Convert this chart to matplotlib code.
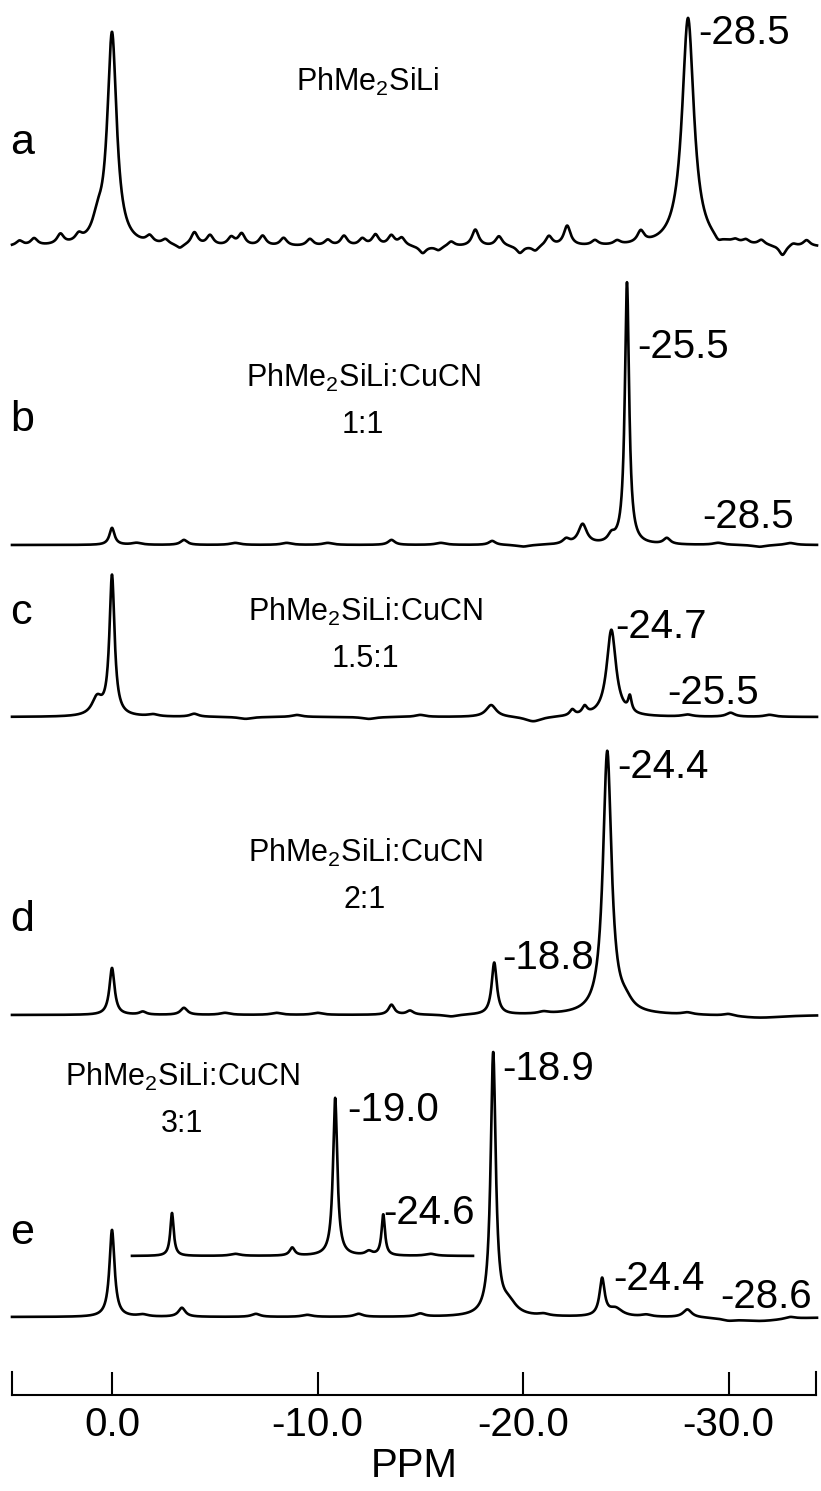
import numpy as np
import matplotlib.pyplot as plt

plt.rcParams['font.family'] = ['Liberation Sans', 'DejaVu Sans']
plt.rcParams['mathtext.fontset'] = 'custom'
plt.rcParams['mathtext.rm'] = 'Liberation Sans'
plt.rcParams['mathtext.default'] = 'regular'

# peak tables: position (ppm), height, width (ppm, FWHM)
a_pos = [0.0, 0.7, -28.03, 3.79, 2.51, 1.62, 4.5, -1.83, -2.6, -3.3, -4.01, -4.77, -5.80, -6.31,
         -7.33, -8.35, -9.63, -10.5, -11.29, -12.18, -12.82, -13.59, -14.10, -15.12, -15.89,
         -16.5, -17.68, -18.83, -19.85, -20.6, -21.26, -22.15, -23.5, -24.58, -25.73, -29.5,
         -30.33, -30.84, -31.6, -32.63, -33.14, -33.8]
a_hgt = [212, 18, 229, 7, 10, 7, 5, 7, 5, -4, 13, 10, 8, 11.7,
         10, 8, 7, 6, 10, 7, 11, 10, 8, -7, -4,
         5, 16.7, 10, -7, -5, 10, 20, 5, 4, 11.7, -5,
         3, 4, 5, -10, 3, 6]
a_wid = [0.55, 0.6, 0.7] + [0.4] * 39

b_pos = [0.0, -1.2, -3.5, -6.0, -8.5, -10.5, -13.6, -16.0, -18.5, -20.0, -22.1, -22.9, -24.3,
         -25.06, -27.0, -29.5, -31.5, -33.0]
b_hgt = [17, 2, 5, 2, 2, 2, 5, 2, 4, -2, 5, 20, 7, 262, 6, 2, -2, 2]
b_wid = [0.3, 0.6, 0.4, 0.6, 0.6, 0.6, 0.4, 0.6, 0.4, 0.8, 0.4, 0.5, 0.4, 0.25, 0.4, 0.6, 0.8, 0.6]

c_pos = [0.73, 0.0, -2.0, -4.0, -6.5, -9.0, -12.5, -15.0, -18.45, -20.5, -22.4, -23.0, -24.3,
         -25.2, -28.0, -30.1, -32.0]
c_hgt = [17, 140, 2, 3, -2, 2, -2, 2, 12, -5, 6, 8, 87, 15, 2, 4, 2]
c_wid = [0.6, 0.3, 0.6, 0.5, 0.8, 0.6, 0.8, 0.6, 0.6, 1.0, 0.3, 0.3, 0.55, 0.2, 0.6, 0.5, 0.6]

d_pos = [0.0, -1.5, -3.5, -5.5, -8.0, -10.0, -13.6, -14.5, -16.5, -18.6, -21.0, -24.1, -25.0,
         -28.0, -30.0, -31.5]
d_hgt = [47, 3, 7, 2, 2, 2, 10, 4, -2, 52, 2, 263, 8, 2, 2, -3]
d_wid = [0.3, 0.4, 0.4, 0.6, 0.6, 0.6, 0.35, 0.4, 0.8, 0.3, 0.6, 0.5, 0.8, 0.6, 0.6, 3.0]

e_pos = [0.0, -1.5, -3.4, -7.0, -9.5, -12.0, -15.0, -18.55, -19.3, -21.0, -23.85, -24.5,
         -26.0, -28.0, -30.0, -31.5, -33.0]
e_hgt = [87, 2, 9, 3, 2, 3, 3, 262, 12, 2, 37, 8, 2, 8, -2, -4, 2]
e_wid = [0.3, 0.6, 0.4, 0.5, 0.6, 0.5, 0.5, 0.3, 0.9, 0.6, 0.3, 0.8, 0.6, 0.5, 0.8, 3.0, 0.6]

# expanded trace drawn inside panel e (its own scale)
ins_pos = [-2.92, -6.0, -8.77, -10.86, -12.5, -13.2, -15.5]
ins_hgt = [43, 2, 8, 158, 4, 41, 2]
ins_wid = [0.2, 0.6, 0.3, 0.25, 0.4, 0.2, 0.6]

tick_vals = [0, -10, -20, -30]
tick_labels = ['0.0', '-10.0', '-20.0', '-30.0']


def spectrum(x, pos, hgt, wid):
    y = np.zeros_like(x)
    for p, h, w in zip(pos, hgt, wid):
        y += h / (1 + ((x - p) / (w / 2)) ** 2)
    return y


def px(xp):
    # pixel column -> ppm
    return (112 - xp) / 20.55


fig = plt.figure(figsize=(8.21, 14.91), dpi=100)
ax = fig.add_axes([0, 0, 1, 1])
ax.set_xlim(px(0), px(821))
ax.set_ylim(-1491, 0)
ax.axis('off')

x = np.linspace(px(12), px(817), 4000)
lw = 1.9
for pos, hgt, wid, base in [(a_pos, a_hgt, a_wid, 247), (b_pos, b_hgt, b_wid, 545),
                            (c_pos, c_hgt, c_wid, 717), (d_pos, d_hgt, d_wid, 1015),
                            (e_pos, e_hgt, e_wid, 1317)]:
    ax.plot(x, -base + spectrum(x, pos, hgt, wid), color='black', lw=lw)

xi = np.linspace(px(132), px(473), 1500)
ax.plot(xi, -1256 + spectrum(xi, ins_pos, ins_hgt, ins_wid), color='black', lw=lw)

big = 29
small = 22
letter = 31


def label(xp, yp, s, size=big, ha='left'):
    ax.text(px(xp), -yp, s, fontsize=size, ha=ha, va='center')


# panel letters
for s, yp in [('a', 143), ('b', 420), ('c', 613), ('d', 920), ('e', 1233)]:
    label(10, yp, s, size=letter)

# sample names and ratios
label(368, 82, 'PhMe$_2$SiLi', small, 'center')
for xp, yp, r in [(363, 378, '1:1'), (365, 612, '1.5:1'), (365, 853, '2:1'), (182, 1077, '3:1')]:
    label(xp, yp, 'PhMe$_2$SiLi:CuCN', small, 'center')
    label(xp, yp + 47, r, small, 'center')

# peak labels
for xp, yp, s in [(698, 33, '-28.5'), (637, 347, '-25.5'), (702, 517, '-28.5'),
                  (615, 627, '-24.7'), (667, 693, '-25.5'), (617, 767, '-24.4'),
                  (502, 958, '-18.8'), (347, 1110, '-19.0'), (383, 1213, '-24.6'),
                  (502, 1069, '-18.9'), (613, 1279, '-24.4'), (720, 1297, '-28.6')]:
    label(xp, yp, s)

# ppm scale
ax2 = fig.add_axes([12 / 821, (1491 - 1395) / 1491, 804 / 821, 23 / 1491])
ax2.set_xlim(px(12), px(816))
ax2.set_ylim(0, 1)
ax2.patch.set_alpha(0)
ax2.spines['top'].set_visible(False)
for side in ['bottom', 'left', 'right']:
    ax2.spines[side].set_linewidth(1.5)
ax2.set_yticks([])
ax2.set_xticks(tick_vals)
ax2.set_xticklabels(tick_labels, fontsize=big)
ax2.tick_params(axis='x', direction='in', length=16.5, width=1.5, pad=8)
ax2.set_xlabel('PPM', fontsize=big, labelpad=2)

fig.savefig('out.png', dpi=100)
